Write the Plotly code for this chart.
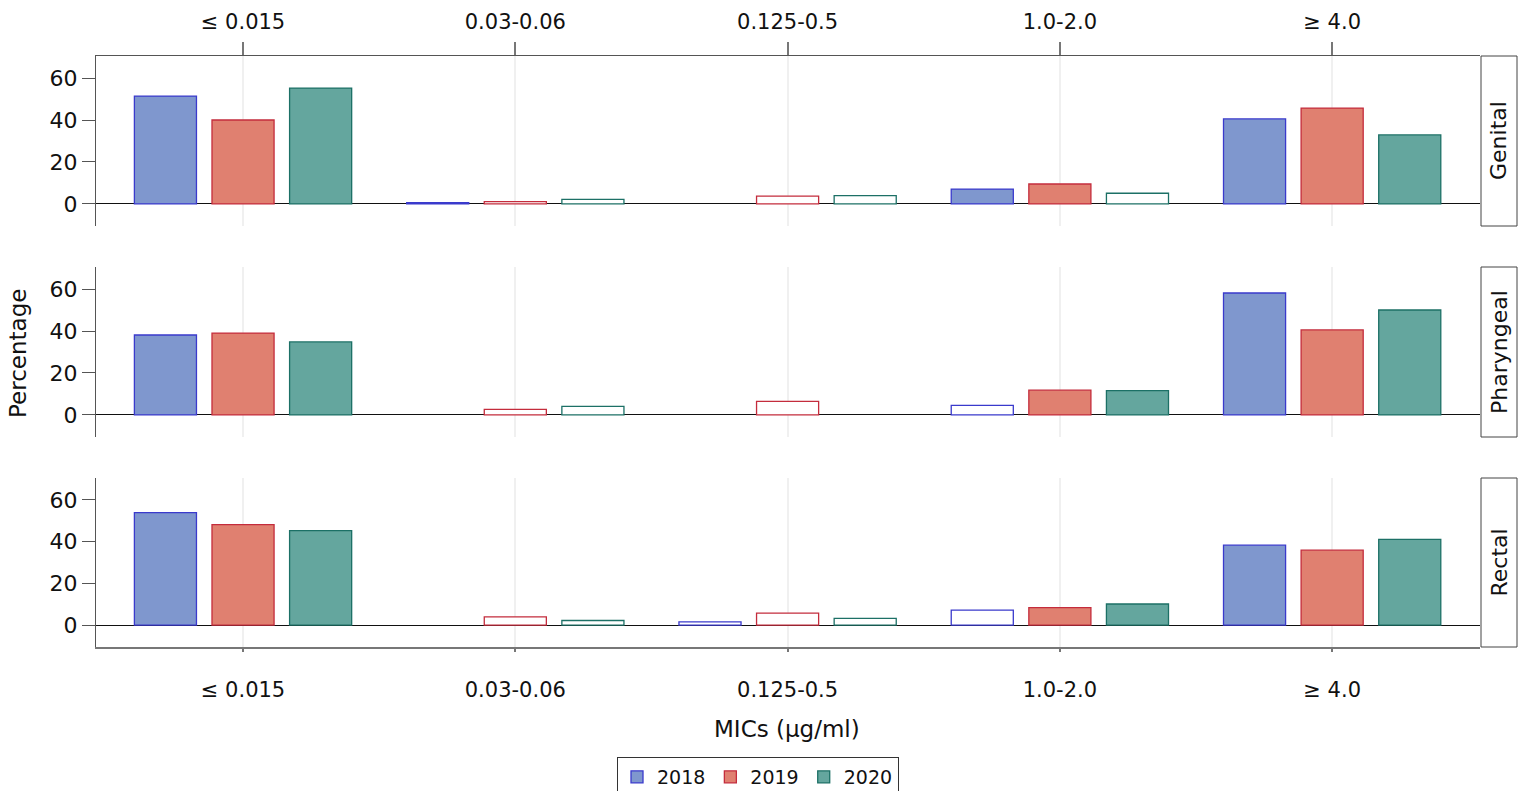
import plotly.graph_objects as go

categories = ["≤ 0.015", "0.03-0.06", "0.125-0.5", "1.0-2.0", "≥ 4.0"]
years = ["2018", "2019", "2020"]
sites = ["Genital", "Pharyngeal", "Rectal"]

genital_2018 = [51.4, 0.6, 0, 7.1, 40.5]
genital_2019 = [40.0, 1.1, 3.7, 9.5, 45.7]
genital_2020 = [55.2, 2.2, 4.0, 5.1, 32.9]

pharyngeal_2018 = [38.1, 0, 0, 4.6, 58.1]
pharyngeal_2019 = [39.0, 2.7, 6.5, 11.8, 40.5]
pharyngeal_2020 = [34.8, 4.1, 0, 11.6, 50.0]

rectal_2018 = [53.9, 0, 1.5, 7.2, 38.3]
rectal_2019 = [48.2, 3.9, 5.7, 8.4, 35.9]
rectal_2020 = [45.3, 2.2, 3.2, 10.1, 41.1]

# bars drawn hollow (outline only) in the original
hollow_genital = [[False, False, False, False, False],
                  [False, True, True, False, False],
                  [False, True, True, True, False]]
hollow_pharyngeal = [[False, False, False, True, False],
                     [False, True, True, False, False],
                     [False, True, False, False, False]]
hollow_rectal = [[False, False, True, True, False],
                 [False, True, True, False, False],
                 [False, True, True, False, False]]

data = {
    "Genital": [genital_2018, genital_2019, genital_2020],
    "Pharyngeal": [pharyngeal_2018, pharyngeal_2019, pharyngeal_2020],
    "Rectal": [rectal_2018, rectal_2019, rectal_2020],
}
hollow = {"Genital": hollow_genital, "Pharyngeal": hollow_pharyngeal, "Rectal": hollow_rectal}

fills = ["#7F97CE", "#E08070", "#64A69E"]
lines = ["#3A3ACC", "#C42C3C", "#1C7066"]

W, H = 1527, 791
L, R, T, B = 96, 1480, 56, 647          # plot-area pixel box
PW, PH = R - L, B - T
panels_px = [(56, 226), (267, 437), (478, 647)]


def px_x(x):
    return (x - L) / PW


def px_y(y):
    return (B - y) / PH


FONT = "DejaVu Sans, Verdana, sans-serif"
fig = go.Figure()

for r, site in enumerate(sites):
    xa = "x" if r == 0 else f"x{r+1}"
    ya = "y" if r == 0 else f"y{r+1}"
    for k, yr in enumerate(years):
        vals = data[site][k]
        yvals = [v if v > 0 else None for v in vals]
        mcol = ["white" if hollow[site][k][i] else fills[k] for i in range(len(vals))]
        fig.add_trace(go.Bar(
            x=categories, y=yvals, name=yr, xaxis=xa, yaxis=ya,
            marker=dict(color=mcol, line=dict(color=lines[k], width=1.3)),
            showlegend=(r == 0), legendgroup=yr,
        ))

layout = dict(
    width=W, height=H,
    margin=dict(l=L, r=W - R, t=T, b=H - B, autoexpand=False),
    paper_bgcolor="white", plot_bgcolor="white",
    barmode="group", bargap=0.145, bargroupgap=0.2,
    font=dict(family=FONT, size=21, color="#111"),
    showlegend=True,
    legend=dict(orientation="h", x=px_x(758), xanchor="center", y=px_y(757), yanchor="top",
                bordercolor="#333", borderwidth=1, font=dict(size=19, family=FONT),
                itemwidth=30, tracegroupgap=0),
)

for r in range(3):
    top, bot = panels_px[r]
    dom_y = [max(0.0, px_y(bot)), min(1.0, px_y(top))]
    xkey = "xaxis" if r == 0 else f"xaxis{r+1}"
    ykey = "yaxis" if r == 0 else f"yaxis{r+1}"
    anchor_y = "y" if r == 0 else f"y{r+1}"
    anchor_x = "x" if r == 0 else f"x{r+1}"
    xaxis = dict(
        domain=[0, 1], anchor=anchor_y, type="category",
        categoryorder="array", categoryarray=categories,
        range=[-0.54, 4.543], showgrid=True, gridcolor="#F0F0F0", gridwidth=1.5,
        zeroline=False, fixedrange=True, automargin=False,
    )
    if r == 0:
        xaxis.update(side="top", showline=True, linecolor="#555", linewidth=1,
                     ticks="outside", ticklen=13, tickcolor="#777", tickwidth=2,
                     showticklabels=True, ticklabelstandoff=5,
                     tickfont=dict(size=21, family=FONT))
    elif r == 2:
        xaxis.update(side="bottom", showline=True, linecolor="#777", linewidth=2,
                     ticks="outside", ticklen=3, tickcolor="#777", tickwidth=2,
                     showticklabels=True, ticklabelstandoff=20,
                     tickfont=dict(size=21, family=FONT))
    else:
        xaxis.update(showline=False, ticks="", showticklabels=False)
    yaxis = dict(
        domain=dom_y, anchor=anchor_x, range=[-10.5, 70.5],
        tickvals=[0, 20, 40, 60], ticks="outside", ticklen=13, tickcolor="#555",
        showline=True, linecolor="#555", linewidth=1, showgrid=False,
        zeroline=True, zerolinecolor="#111", zerolinewidth=1.3,
        tickfont=dict(size=22, family=FONT), fixedrange=True, automargin=False,
    )
    layout[xkey] = xaxis
    layout[ykey] = yaxis

fig.update_layout(**layout)

# Facet strips on the right
sx0, sx1 = px_x(1481), px_x(1517)
for r, site in enumerate(sites):
    top, bot = panels_px[r]
    y0, y1 = px_y(bot), px_y(top)
    fig.add_shape(type="rect", xref="paper", yref="paper", x0=sx0, x1=sx1, y0=y0, y1=y1,
                  line=dict(color="#444", width=1), fillcolor="white", layer="above")
    fig.add_annotation(xref="paper", yref="paper", x=(sx0 + sx1) / 2, y=(y0 + y1) / 2,
                       xanchor="center", yanchor="middle",
                       text=site, textangle=-90, showarrow=False,
                       font=dict(size=22, family=FONT, color="#111"))

# Axis titles
fig.add_annotation(xref="paper", yref="paper", x=px_x(18), y=px_y(354),
                   xanchor="center", yanchor="middle",
                   text="Percentage", textangle=-90, showarrow=False,
                   font=dict(size=23, family=FONT, color="#111"))
fig.add_annotation(xref="paper", yref="paper", x=px_x(787), y=px_y(729),
                   xanchor="center", yanchor="middle",
                   text="MICs (µg/ml)", showarrow=False,
                   font=dict(size=23, family=FONT, color="#111"))

fig.write_html("out.html", config={"displayModeBar": False},
               post_script="document.body.style.margin='0';document.body.style.overflow='hidden';")
